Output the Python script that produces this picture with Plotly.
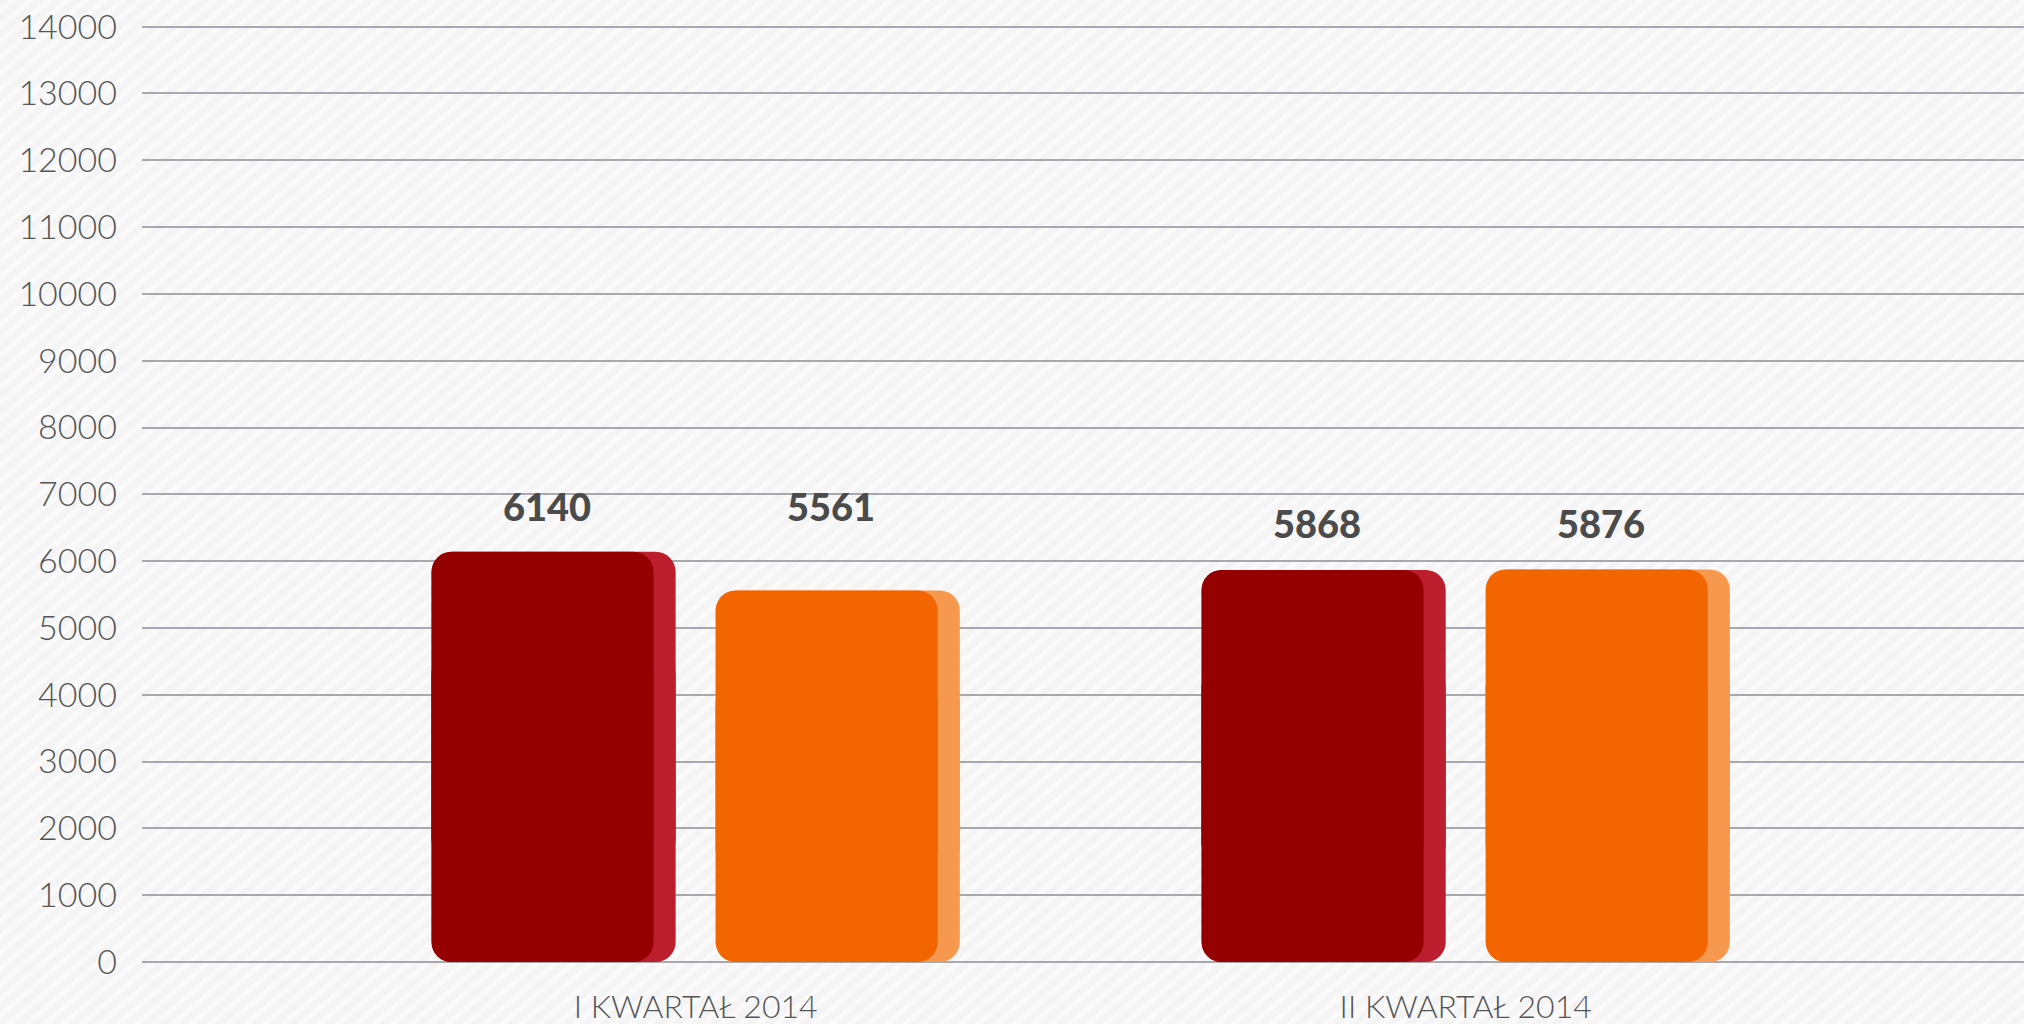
import plotly.graph_objects as go

# ---- data ----
categories = ["I KWARTAŁ 2014", "II KWARTAŁ 2014"]
series_red = [6140, 5868]
series_orange = [5561, 5876]
y_ticks = list(range(0, 14001, 1000))
y_tick_labels = [str(v) for v in y_ticks]

# ---- style ----
RED_FRONT = "#940000"
RED_BACK = "#bd1e2e"
OR_FRONT = "#f36500"
OR_BACK = "#f7984f"
FRONT_W = 0.2883
BACK_W = 0.317
RED_OFF = -0.343
OR_OFF = 0.026
LABEL_DX = 0.150
RADIUS = 20

xs = list(range(len(categories)))

fig = go.Figure()


def add_round_bar(values, offset, width, color):
    # two overlapping pieces: one rounded at the top, one rounded at the bottom
    up_base = [v * 0.25 for v in values]
    up_len = [v * 0.75 for v in values]
    lo_base = [v * 0.75 for v in values]
    lo_len = [-v * 0.75 for v in values]
    mk = dict(color=color, line=dict(width=0), cornerradius=RADIUS)
    fig.add_trace(go.Bar(x=xs, y=up_len, base=up_base, offset=offset, width=width,
                         marker=mk, hoverinfo="skip", showlegend=False))
    fig.add_trace(go.Bar(x=xs, y=lo_len, base=lo_base, offset=offset, width=width,
                         marker=mk, hoverinfo="skip", showlegend=False))


add_round_bar(series_red, RED_OFF, BACK_W, RED_BACK)
add_round_bar(series_red, RED_OFF, FRONT_W, RED_FRONT)
add_round_bar(series_orange, OR_OFF, BACK_W, OR_BACK)
add_round_bar(series_orange, OR_OFF, FRONT_W, OR_FRONT)

# value labels
label_font = dict(family="Lato", size=38, color="#4b4b4b", weight=900)
for i, (r, o) in enumerate(zip(series_red, series_orange)):
    top = max(r, o)
    for val, off in ((r, RED_OFF), (o, OR_OFF)):
        fig.add_annotation(x=i + off + LABEL_DX, y=top, text=str(val), showarrow=False,
                           xanchor="center", yanchor="middle", yshift=46, font=label_font)

stripes = (
    "data:image/svg+xml;utf8,"
    "<svg xmlns='http://www.w3.org/2000/svg' width='2400' height='1400'>"
    "<defs><pattern id='p' width='11' height='11' patternUnits='userSpaceOnUse' "
    "patternTransform='rotate(45)'><rect width='11' height='11' fill='%23f4f4f4'/>"
    "<rect width='5' height='11' fill='%23fafafa'/></pattern></defs>"
    "<rect width='100%' height='100%' fill='url(%23p)'/></svg>"
)
fig.add_layout_image(source=stripes, xref="paper", yref="paper", x=-0.2, y=1.2,
                     sizex=1.5, sizey=1.5, sizing="stretch", xanchor="left", yanchor="top",
                     layer="below", opacity=1)

ytick_font = dict(family="Lato", size=34, color="#555555", weight=300)
xtick_font = dict(family="Lato", size=32, color="#555555", weight=300)

fig.update_layout(
    width=2024, height=1024,
    barmode="overlay",
    paper_bgcolor="#f6f6f6",
    plot_bgcolor="rgba(0,0,0,0)",
    margin=dict(l=142, r=0, t=20, b=62, pad=0),
    xaxis=dict(range=[-0.719, 1.725], tickvals=xs, ticktext=categories, showgrid=False,
               zeroline=False, showline=False, ticks="", tickfont=xtick_font,
               ticklabelstandoff=23, fixedrange=True),
    yaxis=dict(range=[0, 14100], tickvals=y_ticks, ticktext=y_tick_labels, showgrid=True,
               gridcolor="#a9a9ad", gridwidth=2, zeroline=True, zerolinecolor="#a9a9ad",
               zerolinewidth=2, showline=False, ticks="", tickfont=ytick_font,
               ticklabelstandoff=24, fixedrange=True),
)

fig.write_html("out.html", config={"displayModeBar": False},
               post_script="document.body.style.margin='0';")
